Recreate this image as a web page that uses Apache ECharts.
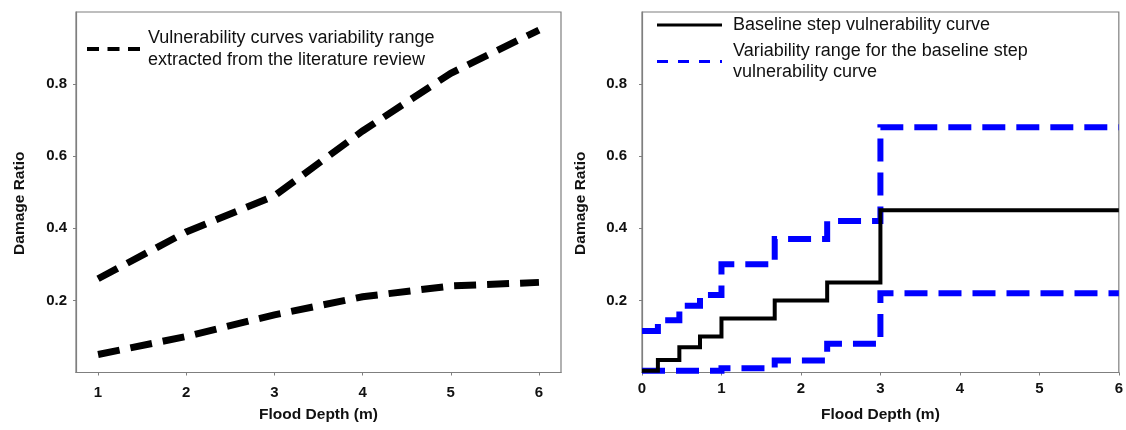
<!DOCTYPE html>
<html>
<head>
<meta charset="utf-8">
<script src="https://cdn.jsdelivr.net/npm/echarts@6/dist/echarts.min.js"></script>
<style>
  html, body { margin: 0; padding: 0; background: #fff; }
  #chart { width: 1126px; height: 430px; }
</style>
</head>
<body>
<div id="chart"></div>
<script>
// Left panel: range of vulnerability curves from the literature
const litDepth = [1, 2, 3, 4, 5, 6];
const litUpper = [0.26, 0.39, 0.49, 0.67, 0.83, 0.95];
const litLower = [0.05, 0.10, 0.16, 0.21, 0.24, 0.25];

// Right panel: baseline step curve and its variability range
const stepDepth    = [0, 0.2, 0.47, 0.73, 1.0, 1.67, 2.33, 3.0, 6.0];
const baselineStep = [0.005, 0.035, 0.07, 0.10, 0.15, 0.20, 0.25, 0.45, 0.45];
const rangeUpper   = [0.115, 0.145, 0.185, 0.215, 0.30, 0.37, 0.42, 0.68, 0.68];
const rangeLower   = [0.005, 0.005, 0.005, 0.005, 0.012, 0.033, 0.08, 0.22, 0.22];

// Tick labels
const leftXTicks  = [1, 2, 3, 4, 5, 6];
const rightXTicks = [0, 1, 2, 3, 4, 5, 6];
const yTicks      = [0.2, 0.4, 0.6, 0.8];

// Texts
const xName = 'Flood Depth (m)';
const yName = 'Damage Ratio';
const litLabel = 'Vulnerability curves variability range\nextracted from the literature review';
const baseLabel = 'Baseline step vulnerability curve';
const rangeLabel = 'Variability range for the baseline step\nvulnerability curve';

const FONT = "'Liberation Sans', Arial, Helvetica, sans-serif";
const AXIS_GRAY = '#7f7f7f';
const TEXT = '#111';
const BLUE = '#0000ff';

const pairs = (xs, ys) => xs.map((x, i) => [x, ys[i]]);

function xAxisCfg(gridIndex, min, max, ticks, labelMargin) {
  return {
    type: 'value', gridIndex, min, max,
    name: xName, nameLocation: 'middle', nameGap: 34,
    nameTextStyle: { fontFamily: FONT, fontSize: 15.5, fontWeight: 'bold', color: TEXT },
    axisLine: { show: true, lineStyle: { color: AXIS_GRAY, width: 1.2 } },
    axisTick: { show: true, length: 3, customValues: ticks, lineStyle: { color: AXIS_GRAY } },
    axisLabel: { customValues: ticks, margin: labelMargin, fontFamily: FONT, fontSize: 15,
                 fontWeight: 'bold', color: TEXT, formatter: v => String(v) },
    splitLine: { show: false }
  };
}

function yAxisCfg(gridIndex, nameGap, labelMargin) {
  return {
    type: 'value', gridIndex, min: 0, max: 1,
    name: yName, nameLocation: 'middle', nameGap, nameRotate: 90,
    nameTextStyle: { fontFamily: FONT, fontSize: 15.5, fontWeight: 'bold', color: TEXT,
                     padding: [0, 22, 0, 0] },
    axisLine: { show: true, lineStyle: { color: AXIS_GRAY, width: 1.2 } },
    axisTick: { show: true, length: 3, customValues: yTicks, lineStyle: { color: AXIS_GRAY } },
    axisLabel: { customValues: yTicks, margin: labelMargin, fontFamily: FONT, fontSize: 15,
                 fontWeight: 'bold', color: TEXT, formatter: v => v.toFixed(1) },
    splitLine: { show: false }
  };
}

const legendText = { fontFamily: FONT, fontSize: 18, color: TEXT, lineHeight: 22 };

const option = {
  backgroundColor: '#fff',
  animation: false,
  grid: [
    { left: 76, top: 12, width: 485, height: 360.5, show: true,
      borderColor: AXIS_GRAY, borderWidth: 1.2, backgroundColor: 'transparent' },
    { left: 642, top: 12, width: 480.5, height: 360.5, show: true,
      borderColor: AXIS_GRAY, borderWidth: 1.2, backgroundColor: 'transparent' }
  ],
  xAxis: [
    xAxisCfg(0, 0.75, 6.25, leftXTicks, 13),
    xAxisCfg(1, 0, 6, rightXTicks, 9)
  ],
  yAxis: [
    yAxisCfg(0, 48, 9),
    yAxisCfg(1, 53, 15)
  ],
  legend: [
    {
      left: 87, top: 27, padding: 0, orient: 'vertical',
      itemWidth: 53, itemHeight: 4, selectedMode: false,
      itemStyle: { borderWidth: 0 },
      textStyle: Object.assign({}, legendText, { padding: [0, 0, 0, 3] }),
      data: [{ name: litLabel,
               icon: 'path://M0 0H12V4H0Z M20.5 0H32.5V4H20.5Z M41 0H53V4H41Z' }]
    },
    {
      left: 657, top: 14.5, padding: 0, orient: 'vertical', itemGap: 5,
      itemWidth: 65, itemHeight: 3, selectedMode: false,
      itemStyle: { borderWidth: 0 },
      textStyle: Object.assign({}, legendText, { lineHeight: 21, padding: [0, 0, 0, 6] }),
      data: [
        { name: baseLabel, icon: 'rect' },
        { name: rangeLabel,
          icon: 'path://M0 0H11V3H0Z M21 0H32V3H21Z M42 0H53V3H42Z M63 0H65V3H63Z' }
      ]
    }
  ],
  series: [
    {
      name: litLabel, type: 'line', xAxisIndex: 0, yAxisIndex: 0,
      data: pairs(litDepth, litUpper), symbol: 'none', color: '#000',
      lineStyle: { color: '#000', width: 7, type: [22, 11], cap: 'butt', join: 'miter' }
    },
    {
      name: litLabel, type: 'line', xAxisIndex: 0, yAxisIndex: 0,
      data: pairs(litDepth, litLower), symbol: 'none', color: '#000',
      lineStyle: { color: '#000', width: 7, type: [22, 11], cap: 'butt', join: 'miter' }
    },
    {
      name: rangeLabel, type: 'line', xAxisIndex: 1, yAxisIndex: 1, step: 'end',
      data: pairs(stepDepth, rangeUpper), symbol: 'none', color: BLUE,
      lineStyle: { color: BLUE, width: 6, type: [23, 11], cap: 'butt', join: 'miter' }
    },
    {
      name: rangeLabel, type: 'line', xAxisIndex: 1, yAxisIndex: 1, step: 'end',
      data: pairs(stepDepth, rangeLower), symbol: 'none', color: BLUE,
      lineStyle: { color: BLUE, width: 6, type: [23, 11], cap: 'butt', join: 'miter' }
    },
    {
      name: baseLabel, type: 'line', xAxisIndex: 1, yAxisIndex: 1, step: 'end',
      data: pairs(stepDepth, baselineStep), symbol: 'none', color: '#000',
      lineStyle: { color: '#000', width: 4, type: 'solid', join: 'miter' }
    }
  ]
};

const chart = echarts.init(document.getElementById('chart'), null, { renderer: 'canvas' });
chart.setOption(option);
</script>
</body>
</html>
